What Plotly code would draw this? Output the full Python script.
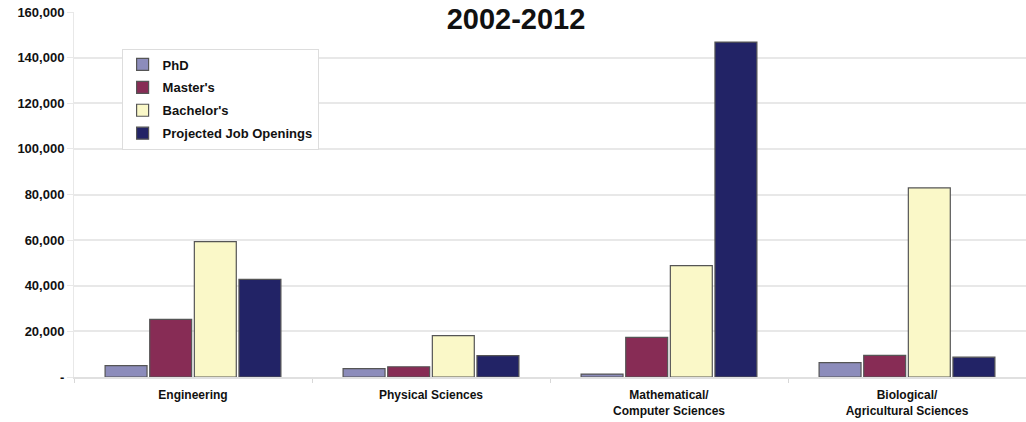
import plotly.graph_objects as go

categories = ["Engineering", "Physical Sciences", "Mathematical/<br>Computer Sciences", "Biological/<br>Agricultural Sciences"]
phd = [5000, 3700, 1300, 6300]
masters = [25300, 4500, 17400, 9500]
bachelors = [59300, 18100, 48800, 82900]
projected = [42800, 9400, 146800, 8700]
y_ticks = [0, 20000, 40000, 60000, 80000, 100000, 120000, 140000, 160000]
y_tick_labels = ["-", "20,000", "40,000", "60,000", "80,000", "100,000", "120,000", "140,000", "160,000"]

series = [
    ("PhD", phd, "#8C8CBB"),
    ("Master's", masters, "#872C55"),
    ("Bachelor's", bachelors, "#FAF8C8"),
    ("Projected Job Openings", projected, "#222366"),
]

fig = go.Figure()
for name, vals, col in series:
    fig.add_trace(go.Bar(x=categories, y=vals, name=name, legendgroup=name,
                         marker=dict(color=col, line=dict(color="#555555", width=1.2))))

font = "Liberation Sans, Arial, sans-serif"
fig.update_layout(
    width=1026, height=422,
    margin=dict(l=74, r=0, t=12, b=45),
    paper_bgcolor="white", plot_bgcolor="white",
    barmode="group", bargap=0.25, bargroupgap=0.06,
    font=dict(family=font, color="#111111"),
    showlegend=True,
    legend=dict(x=0.05, y=0.90, xanchor="left", yanchor="top",
                bordercolor="#dddddd", borderwidth=1, bgcolor="white",
                font=dict(family=font, size=13, color="#111111", weight="bold"),
                tracegroupgap=3, itemwidth=30, indentation=0),
    annotations=[dict(text="<b>2002-2012</b>", x=0.464, y=0.981, xref="paper", yref="paper",
                      xanchor="center", yanchor="middle", showarrow=False,
                      font=dict(family=font, size=29, color="#111111"),
                      bgcolor="white", borderpad=2, width=184)],
)
fig.update_yaxes(range=[0, 160000], tickvals=y_ticks, ticktext=y_tick_labels,
                 showgrid=True, gridcolor="#e8e8e8", gridwidth=1.5, zeroline=False,
                 showline=True, linecolor="#e8e8e8", ticks="outside", ticklen=6, tickcolor="#e8e8e8",
                 tickfont=dict(family=font, size=13, color="#111111", weight="bold"))
fig.update_xaxes(showline=True, linecolor="#e0e0e0", linewidth=1.5, tickson="boundaries",
                 ticks="outside", ticklen=4, tickcolor="#d8d8d8", showgrid=False,
                 ticklabelstandoff=6,
                 tickfont=dict(family=font, size=12, color="#111111", weight="bold"))

fig.write_html("out.html")
